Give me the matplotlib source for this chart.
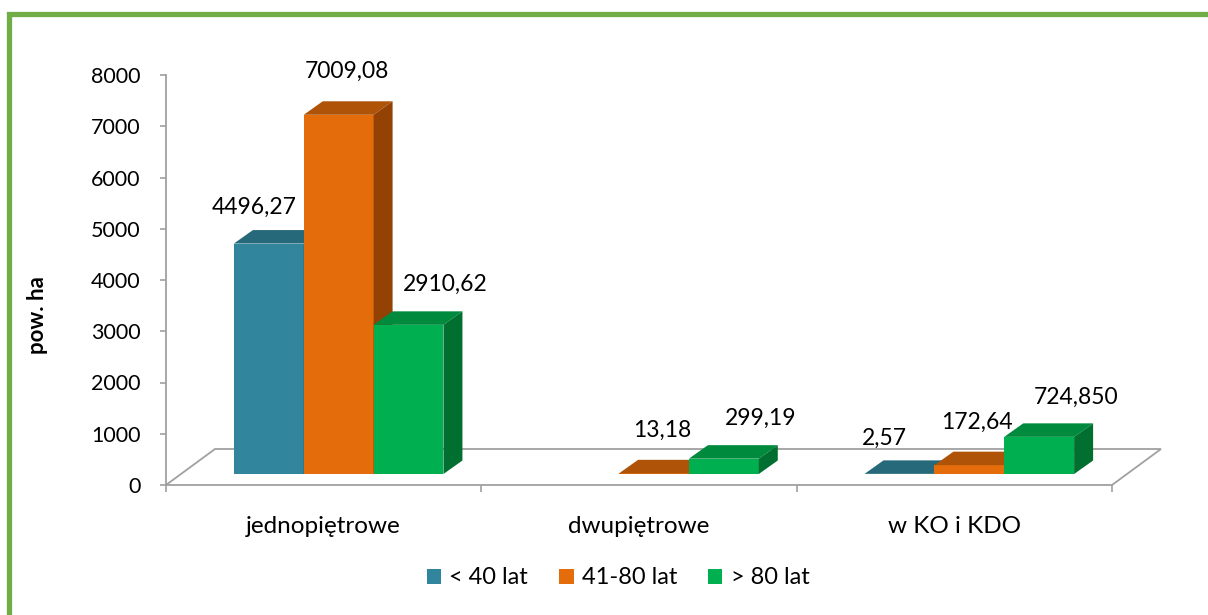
import numpy as np
import matplotlib
matplotlib.use("Agg")
import matplotlib.pyplot as plt
from matplotlib.patches import Polygon, Patch, Rectangle

plt.rcParams['font.family'] = ['Lato', 'DejaVu Sans']

# data
categories = ["jednopiętrowe", "dwupiętrowe", "w KO i KDO"]
series = ["< 40 lat", "41-80 lat", "> 80 lat"]
lt40 = [4496.27, np.nan, 2.57]
mid = [7009.08, 13.18, 172.64]
gt80 = [2910.62, 299.19, 724.85]
labels = [["4496,27", "", "2,57"],
          ["7009,08", "13,18", "172,64"],
          ["2910,62", "299,19", "724,850"]]
values = [lt40, mid, gt80]

# colours: front, top, side
front = ["#31859C", "#E46C0A", "#00B050"]
top = ["#25697A", "#AF5308", "#008A3E"]
side = ["#1E5766", "#934204", "#006F30"]
lab_off = [(-15, 36), (8, 43), (37, 40)]   # label offset in pixels

W, H = 1208, 615
fig = plt.figure(figsize=(W / 100, H / 100), dpi=100)
ax = fig.add_axes([166 / W, 130 / H, 946 / W, 410 / H])
ax.set_xlim(0, 3)
ax.set_ylim(0, 8000)

px_x = 3 / 946
px_y = 8000 / 410
fdx, fdy = 15 * px_x, 11 * px_y      # bar front plane
bdx, bdy = 34 * px_x, 24.5 * px_y    # bar back plane
flx, fly = 49 * px_x, 36 * px_y      # floor depth

grey = "#A0A0A0"
# floor
ax.plot([0, flx, 3 + flx, 3], [0, fly, fly, 0], color=grey, lw=1.3,
        zorder=1, clip_on=False, solid_joinstyle='miter')

w = 70 / 316
for i in range(len(categories)):
    for j in range(len(series)):
        v = values[j][i]
        if np.isnan(v):
            continue
        L = i + 0.5 + (j - 1.5) * w
        R = L + w
        kw = dict(closed=True, clip_on=False, lw=0, zorder=3)
        ax.add_patch(Polygon([(L + fdx, fdy), (R + fdx, fdy), (R + fdx, fdy + v),
                              (L + fdx, fdy + v)], facecolor=front[j], **kw))
        ax.add_patch(Polygon([(L + fdx, fdy + v), (R + fdx, fdy + v), (R + bdx, bdy + v),
                              (L + bdx, bdy + v)], facecolor=top[j], **kw))
        ax.add_patch(Polygon([(R + fdx, fdy), (R + bdx, bdy), (R + bdx, bdy + v),
                              (R + fdx, fdy + v)], facecolor=side[j], **kw))
        ax.annotate(labels[j][i], (L + w / 2 + fdx, fdy + v), xytext=lab_off[j],
                    textcoords='offset pixels', ha='center', va='center',
                    fontsize=16.5, color='#000000', zorder=5)

for s in ['top', 'right']:
    ax.spines[s].set_visible(False)
for s in ['left', 'bottom']:
    ax.spines[s].set_color(grey)
    ax.spines[s].set_linewidth(1.3)
    ax.spines[s].set_zorder(2)

ax.set_yticks(np.arange(0, 8001, 1000))
ax.tick_params(axis='y', direction='out', length=4.5, width=1.2, color=grey,
               labelsize=15.5, pad=14)
ax.set_xticks([0, 1, 2, 3])
ax.set_xticklabels([])
ax.set_xticks([0.5, 1.5, 2.5], minor=True)
ax.set_xticklabels(categories, minor=True, fontsize=17.5)
ax.tick_params(axis='x', which='major', direction='out', length=5, width=1.2, color=grey)
ax.tick_params(axis='x', which='minor', length=0, pad=22)

fig.text(38 / W, 300 / H, "pow. ha", rotation=90, ha='center', va='center',
         fontsize=16, fontweight='bold')

handles = [Patch(facecolor=c, edgecolor='none') for c in front]
fig.legend(handles, series, loc='center', bbox_to_anchor=(618 / W, 1 - 578 / H),
           ncol=3, frameon=False, fontsize=17, handlelength=0.62, handleheight=0.62,
           handletextpad=0.35, columnspacing=1.3)

# green frame around chart area
fig.patches.append(Rectangle((9 / W, -0.1), 1.2, 1.1 - 13.5 / H, transform=fig.transFigure,
                             fill=False, edgecolor="#70AD47", lw=3.8))

fig.savefig("out.png", dpi=100)
